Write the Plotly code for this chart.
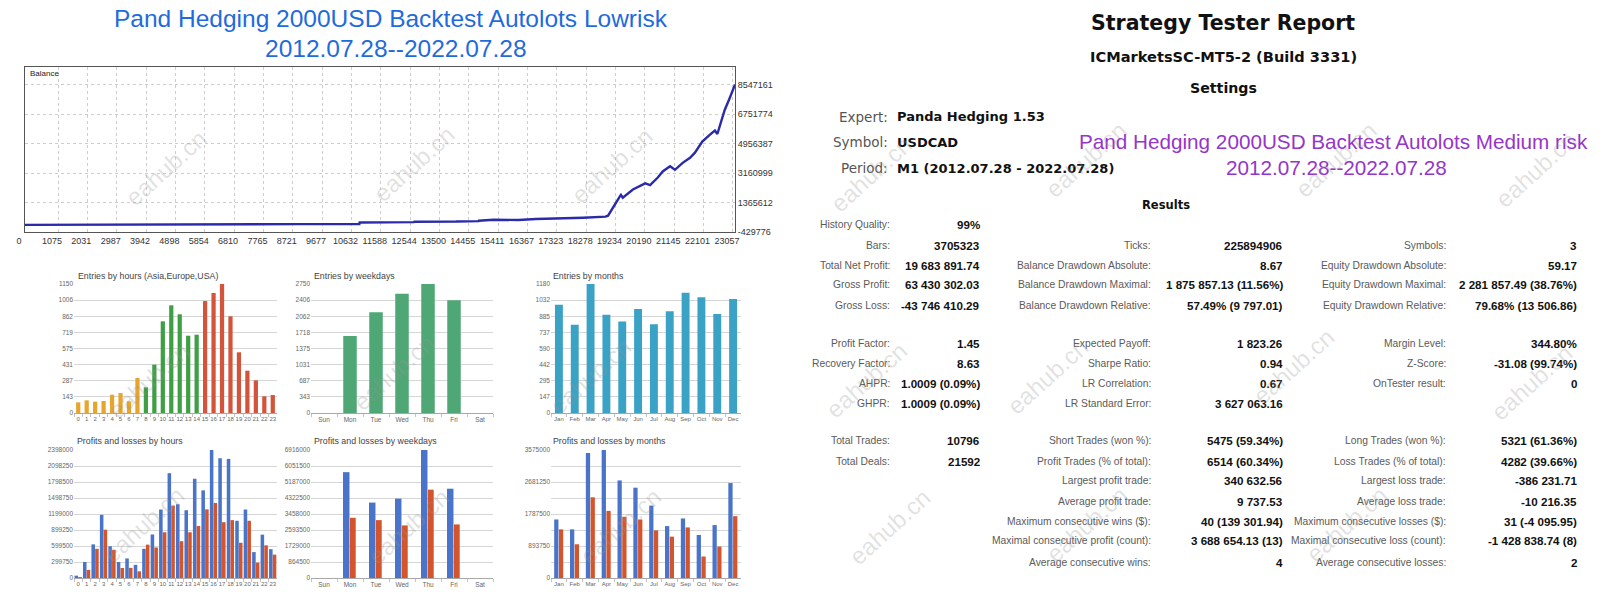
import plotly.graph_objects as go

W, H = 1618, 597

# ---------------- text content ----------------
left_title = "Pand Hedging 2000USD Backtest Autolots Lowrisk"
left_period = "2012.07.28--2022.07.28"
right_title = "Pand Hedging 2000USD Backtest Autolots Medium risk"
right_period = "2012.07.28--2022.07.28"

report_title = "Strategy Tester Report"
report_server = "ICMarketsSC-MT5-2 (Build 3331)"
settings_labels = ["Expert:", "Symbol:", "Period:"]
settings_values = ["Panda Hedging 1.53", "USDCAD", "M1 (2012.07.28 - 2022.07.28)"]

# ---------------- balance curve ----------------
balance_deals = [0, 8860, 8870, 10890, 10900, 12670, 12680, 14050, 14060, 14770, 14780,
                 15260, 16070, 16640, 17370, 18180, 18910, 18990, 19390, 19410, 19470,
                 19800, 20200, 20360, 20610, 20770, 21010, 21170, 21420, 21660, 21820,
                 22060, 22310, 22470, 22550, 22790, 22950, 23125]
balance_values = [2000, 2000, 47000, 60000, 150000, 170000, 190000, 200000, 213000, 230000, 255000,
                  316000, 300000, 360000, 380000, 440000, 503000, 565000, 1780000, 1830000, 1660000,
                  2160000, 2530000, 2430000, 2890000, 3260000, 3570000, 3360000, 3780000, 4090000, 4400000,
                  5080000, 5500000, 5750000, 5540000, 7000000, 7720000, 8547161]
balance_xticks = [0, 1075, 2031, 2987, 3942, 4898, 5854, 6810, 7765, 8721, 9677, 10632, 11588,
                  12544, 13500, 14455, 15411, 16367, 17323, 18278, 19234, 20190, 21145, 22101, 23057]
balance_yticks = [-429776, 1365612, 3160999, 4956387, 6751774, 8547161]

# ---------------- entries ----------------
hours = [str(h) for h in range(24)]
hour_session = ["Asia"] * 8 + ["Europe"] * 7 + ["USA"] * 9
entries_hours = [95, 113, 101, 107, 163, 178, 104, 312, 229, 431, 817, 960,
                 880, 689, 698, 998, 1070, 1150, 862, 541, 377, 291, 149, 160]
entries_hours_ticks = [0, 143, 287, 431, 575, 719, 862, 1006, 1150]

weekdays = ["Sun", "Mon", "Tue", "Wed", "Thu", "Fri", "Sat"]
entries_weekdays = [0, 1641, 2146, 2544, 2750, 2402, 0]
entries_weekdays_ticks = [0, 343, 687, 1031, 1375, 1718, 2062, 2406, 2750]

months = ["Jan", "Feb", "Mar", "Apr", "May", "Jun", "Jul", "Aug", "Sep", "Oct", "Nov", "Dec"]
entries_months = [991, 808, 1180, 899, 838, 951, 811, 930, 1101, 1058, 906, 1043]
entries_months_ticks = [0, 147, 295, 442, 590, 737, 885, 1032, 1180]

# ---------------- profits and losses ----------------
profit_hours = [44000, 300000, 630000, 1183000, 595000, 300000, 366000, 247000, 547000, 815000,
                1283000, 1964000, 1382000, 1270000, 1859000, 1642000, 2398000, 2243000, 2231000,
                1072000, 1283000, 485000, 812000, 540000]
loss_hours = [6000, 152000, 547000, 905000, 525000, 188000, 190000, 125000, 625000, 572000,
              857000, 1357000, 690000, 857000, 975000, 1286000, 1406000, 1045000, 1084000,
              660000, 1072000, 288000, 612000, 438000]
pl_hours_ticks = [0, 299750, 599500, 899250, 1199000, 1498750, 1798500, 2098250, 2398000]

profit_weekdays = [0, 5719000, 4075000, 4289000, 6916000, 4825000, 0]
loss_weekdays = [0, 3253000, 3127000, 2841000, 4772000, 2895000, 0]
pl_weekdays_ticks = [0, 864500, 1729000, 2593500, 3458000, 4322500, 5187000, 6051500, 6916000]

profit_months = [1635000, 1358000, 3492000, 3575000, 2725000, 2522000, 2023000, 1450000,
                 1663000, 1201000, 1478000, 2651000]
loss_months = [1358000, 942000, 2254000, 1875000, 1709000, 1635000, 1330000, 1155000,
               1413000, 600000, 878000, 1727000]
pl_months_ticks = [0, 446875, 893750, 1340625, 1787500, 2234375, 2681250, 3128125, 3575000]
pl_months_ticktext = ["0", "", "893750", "", "1787500", "", "2681250", "", "3575000"]

# ---------------- results table ----------------
col1_rows = [0, 1, 2, 3, 4, 5, 6, 7, 8, 9, 10]
col1_labels = ["History Quality:", "Bars:", "Total Net Profit:", "Gross Profit:", "Gross Loss:",
               "Profit Factor:", "Recovery Factor:", "AHPR:", "GHPR:", "Total Trades:", "Total Deals:"]
col1_values = ["99%", "3705323", "19 683 891.74", "63 430 302.03", "-43 746 410.29",
               "1.45", "8.63", "1.0009 (0.09%)", "1.0009 (0.09%)", "10796", "21592"]

col2_rows = [1, 2, 3, 4, 5, 6, 7, 8, 9, 10, 11, 12, 13, 14, 15]
col2_labels = ["Ticks:", "Balance Drawdown Absolute:", "Balance Drawdown Maximal:",
               "Balance Drawdown Relative:", "Expected Payoff:", "Sharpe Ratio:", "LR Correlation:",
               "LR Standard Error:", "Short Trades (won %):", "Profit Trades (% of total):",
               "Largest profit trade:", "Average profit trade:", "Maximum consecutive wins ($):",
               "Maximal consecutive profit (count):", "Average consecutive wins:"]
col2_values = ["225894906", "8.67", "1 875 857.13 (11.56%)", "57.49% (9 797.01)", "1 823.26",
               "0.94", "0.67", "3 627 063.16", "5475 (59.34%)", "6514 (60.34%)", "340 632.56",
               "9 737.53", "40 (139 301.94)", "3 688 654.13 (13)", "4"]

col3_rows = [1, 2, 3, 4, 5, 6, 7, 9, 10, 11, 12, 13, 14, 15]
col3_labels = ["Symbols:", "Equity Drawdown Absolute:", "Equity Drawdown Maximal:",
               "Equity Drawdown Relative:", "Margin Level:", "Z-Score:", "OnTester result:",
               "Long Trades (won %):", "Loss Trades (% of total):", "Largest loss trade:",
               "Average loss trade:", "Maximum consecutive losses ($):",
               "Maximal consecutive loss (count):", "Average consecutive losses:"]
col3_values = ["3", "59.17", "2 281 857.49 (38.76%)", "79.68% (13 506.86)", "344.80%",
               "-31.08 (99.74%)", "0", "5321 (61.36%)", "4282 (39.66%)", "-386 231.71",
               "-10 216.35", "31 (-4 095.95)", "-1 428 838.74 (8)", "2"]

watermark = "eahub.cn"

# ================= styling / layout =================
ROW_Y = [225, 245.6, 265.2, 284.8, 305.5, 343.7, 363.3, 383.9, 403.5,
         440.7, 461.3, 480.9, 501.6, 521.2, 540.8, 562.4]
SANS = "Liberation Sans, Arial, sans-serif"
WIDE = "DejaVu Sans, Verdana, sans-serif"
TICK_FONT = dict(size=6.5, color="#666", family=SANS)

session_colors = {"Asia": "#e8a52c", "Europe": "#3f9f45", "USA": "#d4533b"}
BLUE_BAR = "#4a74c9"
RED_BAR = "#d4542c"


def fx(px):
    return px / W


def fy(py):
    return 1 - py / H


def ann(text, x, y, size, color, family=SANS, bold=False, xanchor="center", angle=0):
    return dict(text=f"<b>{text}</b>" if bold else text, x=fx(x), y=fy(y), xref="paper",
                yref="paper", showarrow=False, xanchor=xanchor, yanchor="middle",
                font=dict(size=size, color=color, family=family), textangle=angle)


fig = go.Figure()
layout = dict(width=W, height=H, autosize=False, margin=dict(l=0, r=0, t=0, b=0, pad=0),
              paper_bgcolor="white", plot_bgcolor="white", showlegend=False,
              barmode="overlay")

# ---- balance chart
fig.add_trace(go.Scatter(x=balance_deals, y=balance_values, mode="lines",
                         line=dict(color="#2a2aaa", width=2.4), xaxis="x", yaxis="y",
                         hoverinfo="skip"))
layout["xaxis"] = dict(domain=[fx(25), fx(735)], anchor="y", range=[0, 23125],
                       tickvals=balance_xticks, ticktext=[str(t) for t in balance_xticks],
                       tickfont=dict(size=9, color="#333", family=SANS), ticklabelshift=-6,
                       tickangle=0, automargin=False,
                       showgrid=True, gridcolor="#cdcdcd", griddash="dot", zeroline=False,
                       showline=True, mirror=True, linecolor="#555", linewidth=1, ticks="")
layout["yaxis"] = dict(domain=[fy(232), fy(67)], anchor="x", side="right",
                       range=[-429776, 9619000], tickvals=balance_yticks,
                       ticktext=[str(t) for t in balance_yticks], automargin=False,
                       tickfont=dict(size=9, color="#333", family=SANS),
                       showgrid=True, gridcolor="#cdcdcd", griddash="dot", zeroline=False,
                       showline=True, mirror=True, linecolor="#555", linewidth=1, ticks="")


def bar_axes(i, x0, x1, y0, y1, cats, ticks, ticktext=None, xfont=6.5):
    layout[f"xaxis{i}"] = dict(domain=[fx(x0), fx(x1)], anchor=f"y{i}", type="category",
                               categoryorder="array", categoryarray=cats,
                               range=[-0.5, len(cats) - 0.5], showgrid=False, showline=True,
                               linecolor="#a8a8a8", ticks="outside", tickson="boundaries",
                               ticklen=3, tickcolor="#c4c4c4", tickangle=0, automargin=False,
                               tickfont=dict(size=xfont, color="#666", family=SANS),
                               zeroline=False)
    layout[f"yaxis{i}"] = dict(domain=[fy(y1), fy(y0)], anchor=f"x{i}", range=[0, ticks[-1]],
                               tickvals=ticks, automargin=False,
                               ticktext=ticktext if ticktext else [str(t) for t in ticks],
                               showgrid=True, gridcolor="#d6d6d6", zeroline=False,
                               showline=False, tickfont=TICK_FONT, ticks="")


# ---- entries charts (top row)
TOP_Y = (284, 413)
BOT_Y = (450, 578)
HOURS_X = (74, 277)
WEEK_X = (311, 493)
MONTH_X = (551, 741)

fig.add_trace(go.Bar(x=hours, y=entries_hours, width=0.5,
                     marker=dict(color=[session_colors[s] for s in hour_session], line_width=0),
                     xaxis="x2", yaxis="y2", hoverinfo="skip"))
bar_axes(2, *HOURS_X, *TOP_Y, hours, entries_hours_ticks, xfont=6)

fig.add_trace(go.Bar(x=weekdays, y=entries_weekdays, width=0.52,
                     marker=dict(color="#4fa775", line_width=0),
                     xaxis="x3", yaxis="y3", hoverinfo="skip"))
bar_axes(3, *WEEK_X, *TOP_Y, weekdays, entries_weekdays_ticks)

fig.add_trace(go.Bar(x=months, y=entries_months, width=0.5,
                     marker=dict(color="#3aa2c4", line_width=0),
                     xaxis="x4", yaxis="y4", hoverinfo="skip"))
bar_axes(4, *MONTH_X, *TOP_Y, months, entries_months_ticks, xfont=6)

# ---- profits and losses charts (bottom row)
fig.add_trace(go.Bar(x=hours, y=profit_hours, width=0.42, offset=-0.44,
                     marker=dict(color=BLUE_BAR, line_width=0), xaxis="x5", yaxis="y5",
                     hoverinfo="skip"))
fig.add_trace(go.Bar(x=hours, y=loss_hours, width=0.42, offset=0.0,
                     marker=dict(color=RED_BAR, line_width=0), xaxis="x5", yaxis="y5",
                     hoverinfo="skip"))
bar_axes(5, *HOURS_X, *BOT_Y, hours, pl_hours_ticks, xfont=6)

fig.add_trace(go.Bar(x=weekdays, y=profit_weekdays, width=0.25, offset=-0.27,
                     marker=dict(color=BLUE_BAR, line_width=0), xaxis="x6", yaxis="y6",
                     hoverinfo="skip"))
fig.add_trace(go.Bar(x=weekdays, y=loss_weekdays, width=0.22, offset=0.0,
                     marker=dict(color=RED_BAR, line_width=0), xaxis="x6", yaxis="y6",
                     hoverinfo="skip"))
bar_axes(6, *WEEK_X, *BOT_Y, weekdays, pl_weekdays_ticks)

fig.add_trace(go.Bar(x=months, y=profit_months, width=0.27, offset=-0.3,
                     marker=dict(color=BLUE_BAR, line_width=0), xaxis="x7", yaxis="y7",
                     hoverinfo="skip"))
fig.add_trace(go.Bar(x=months, y=loss_months, width=0.27, offset=0.0,
                     marker=dict(color=RED_BAR, line_width=0), xaxis="x7", yaxis="y7",
                     hoverinfo="skip"))
bar_axes(7, *MONTH_X, *BOT_Y, months, pl_months_ticks, pl_months_ticktext, xfont=6)

# ---- annotations
anns = []
LEFT_BLUE = "#1f6bdc"
anns.append(ann(left_title, 391, 19, 24.5, LEFT_BLUE))
anns.append(ann(left_period, 396, 48.5, 24.5, LEFT_BLUE))
anns.append(ann("Balance", 28, 74, 8, "#222", xanchor="left"))

chart_titles = [("Entries by hours (Asia,Europe,USA)", 76, 276),
                ("Entries by weekdays", 312, 276),
                ("Entries by months", 551, 276),
                ("Profits and losses by hours", 75, 441),
                ("Profits and losses by weekdays", 312, 441),
                ("Profits and losses by months", 551, 441)]
for t, x, y in chart_titles:
    anns.append(ann(t, x, y, 8.8, "#444", xanchor="left"))

# report header
anns.append(ann(report_title, 1223, 23, 20.5, "#111", family=WIDE, bold=True))
anns.append(ann(report_server, 1223, 57, 14.6, "#111", family=WIDE, bold=True))
anns.append(ann("Settings", 1223, 88, 14.2, "#111", family=WIDE, bold=True))
for lab, val, y in zip(settings_labels, settings_values, [116.6, 142.4, 168.2]):
    anns.append(ann(lab, 890, y, 13.5, "#555", family=WIDE, xanchor="right"))
    anns.append(ann(val, 895, y, 13, "#111", family=WIDE, bold=True, xanchor="left"))

PURPLE = "#9535c9"
anns.append(ann(right_title, 1333, 141.5, 20.7, PURPLE))
anns.append(ann(right_period, 1336, 167, 20.7, PURPLE))
anns.append(ann("Results", 1166, 204.5, 11.5, "#111", family=WIDE, bold=True))

for rows, labels, values, lx, vx in [(col1_rows, col1_labels, col1_values, 892, 982),
                                     (col2_rows, col2_labels, col2_values, 1153, 1285),
                                     (col3_rows, col3_labels, col3_values, 1448, 1579)]:
    for r, lab, val in zip(rows, labels, values):
        anns.append(ann(lab, lx, ROW_Y[r], 10.3, "#5a5a5a", xanchor="right"))
        anns.append(ann(val, vx, ROW_Y[r], 11.6, "#111", family=SANS, bold=True, xanchor="right"))

# watermarks
wm_pos = [(118, 122), (366, 118), (612, 120), (872, 128), (1135, 114), (1385, 114), (1585, 124),
          (100, 380), (345, 372), (590, 376), (866, 380), (1096, 376), (1342, 366), (1580, 382),
          (95, 570), (360, 572), (620, 572), (890, 572), (1135, 570), (1395, 570)]
for x, y in wm_pos:
    anns.append(dict(text=watermark, x=fx(x), y=fy(y), xref="paper", yref="paper",
                     showarrow=False, textangle=-42,
                     font=dict(size=24, color="rgba(150,150,150,0.28)", family=SANS)))

layout["annotations"] = anns
fig.update_layout(**layout)
fig.write_html("out.html", config={"displayModeBar": False},
               post_script="document.body.style.margin='0';document.body.style.overflow='hidden';")
